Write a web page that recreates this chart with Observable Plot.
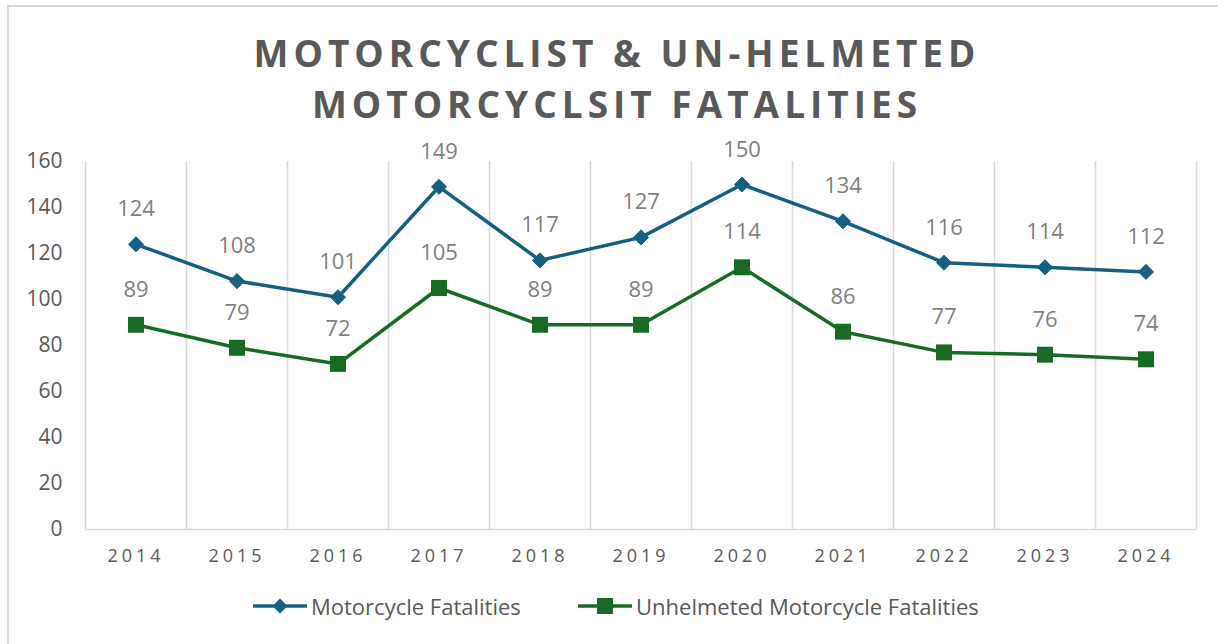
<!DOCTYPE html>
<html><head><meta charset="utf-8">
<script src="https://cdn.jsdelivr.net/npm/d3@7"></script>
<script src="https://cdn.jsdelivr.net/npm/@observablehq/plot@0.6"></script>
<style>
body{margin:0;background:#fff;font-family:"Open Sans",sans-serif;overflow:hidden;}
#frame{position:absolute;left:7px;top:5px;width:1230px;height:660px;border-left:2px solid #d9d9d9;border-top:2px solid #d9d9d9;}
#title{position:absolute;top:27px;left:8px;width:1218px;text-align:center;font-weight:700;font-size:37px;line-height:51px;letter-spacing:5px;color:#595959;}
#chart{position:absolute;top:131px;left:0;}
#chart g[aria-label="x-axis tick label"] text{letter-spacing:4px;}
.leg{position:absolute;top:594px;height:24px;display:flex;align-items:center;font-size:22px;color:#595959;}
.leg svg{margin-right:4px;}
</style></head><body>
<div id="frame"></div>
<div id="title">MOTORCYCLIST &amp; UN-HELMETED<br>MOTORCYCLSIT FATALITIES</div>
<div id="chart"></div>
<div class="leg" id="leg1" style="left:253px"></div>
<div class="leg" id="leg2" style="left:578px"></div>
<script>
const years = [2014, 2015, 2016, 2017, 2018, 2019, 2020, 2021, 2022, 2023, 2024];
const motorcycle = [124, 108, 101, 149, 117, 127, 150, 134, 116, 114, 112];
const unhelmeted = [89, 79, 72, 105, 89, 89, 114, 86, 77, 76, 74];
const yTicks = [0, 20, 40, 60, 80, 100, 120, 140, 160];
const seriesNames = ["Motorcycle Fatalities", "Unhelmeted Motorcycle Fatalities"];
const colors = ["#156082", "#196B24"];

const dataA = years.map((y, i) => ({year: y, value: motorcycle[i]}));
const dataB = years.map((y, i) => ({year: y, value: unhelmeted[i]}));
const bounds = years.map(y => y - 0.5).concat([years[years.length - 1] + 0.5]);

const chart = Plot.plot({
  width: 1218,
  height: 440,
  marginTop: 30,
  marginBottom: 42,
  marginLeft: 85,
  marginRight: 22,
  style: {color: "#595959", fontSize: "20px", fontFamily: "'Open Sans', sans-serif", background: "transparent"},
  x: {type: "linear", domain: [bounds[0], bounds[bounds.length - 1]]},
  y: {domain: [0, 160]},
  marks: [
    Plot.ruleX(bounds, {y1: 0, y2: 160, stroke: "#d9d9d9", strokeWidth: 1.5}),
    Plot.ruleY([0], {stroke: "#d9d9d9", strokeWidth: 1.5}),
    Plot.axisY(yTicks, {tickSize: 0, tickPadding: 23, fontSize: 21, label: null}),
    Plot.axisX(years, {tickSize: 0, tickPadding: 20, fontSize: 18, tickFormat: d => String(d), label: null}),
    Plot.line(dataA, {x: "year", y: "value", stroke: colors[0], strokeWidth: 3.5}),
    Plot.line(dataB, {x: "year", y: "value", stroke: colors[1], strokeWidth: 3.5}),
    Plot.dot(dataA, {x: "year", y: "value", symbol: "diamond2", r: 6.8, fill: colors[0], stroke: colors[0], strokeWidth: 1}),
    Plot.dot(dataB, {x: "year", y: "value", symbol: "square", r: 9, fill: colors[1], stroke: "none"}),
    Plot.text(dataA, {x: "year", y: "value", text: d => String(d.value), dy: -35, fontSize: 22, fill: "#7f7f7f"}),
    Plot.text(dataB, {x: "year", y: "value", text: d => String(d.value), dy: -35, fontSize: 22, fill: "#7f7f7f"})
  ]
});
document.getElementById("chart").appendChild(chart);

function swatch(color, shape) {
  const ns = "http://www.w3.org/2000/svg";
  const s = document.createElementNS(ns, "svg");
  s.setAttribute("width", 54); s.setAttribute("height", 20);
  const l = document.createElementNS(ns, "line");
  l.setAttribute("x1", 1); l.setAttribute("x2", 53); l.setAttribute("y1", 10); l.setAttribute("y2", 10);
  l.setAttribute("stroke", color); l.setAttribute("stroke-width", 3.5); l.setAttribute("stroke-linecap", "round");
  s.appendChild(l);
  const p = document.createElementNS(ns, "path");
  p.setAttribute("d", shape === "diamond" ? "M27,2.5L34.5,10L27,17.5L19.5,10Z" : "M19,2H35V18H19Z");
  p.setAttribute("fill", color);
  s.appendChild(p);
  return s;
}
const legs = [["leg1", "diamond"], ["leg2", "square"]];
legs.forEach(([id, shape], i) => {
  const el = document.getElementById(id);
  el.appendChild(swatch(colors[i], shape));
  const t = document.createElement("span");
  t.textContent = seriesNames[i];
  el.appendChild(t);
});
</script>
</body></html>
